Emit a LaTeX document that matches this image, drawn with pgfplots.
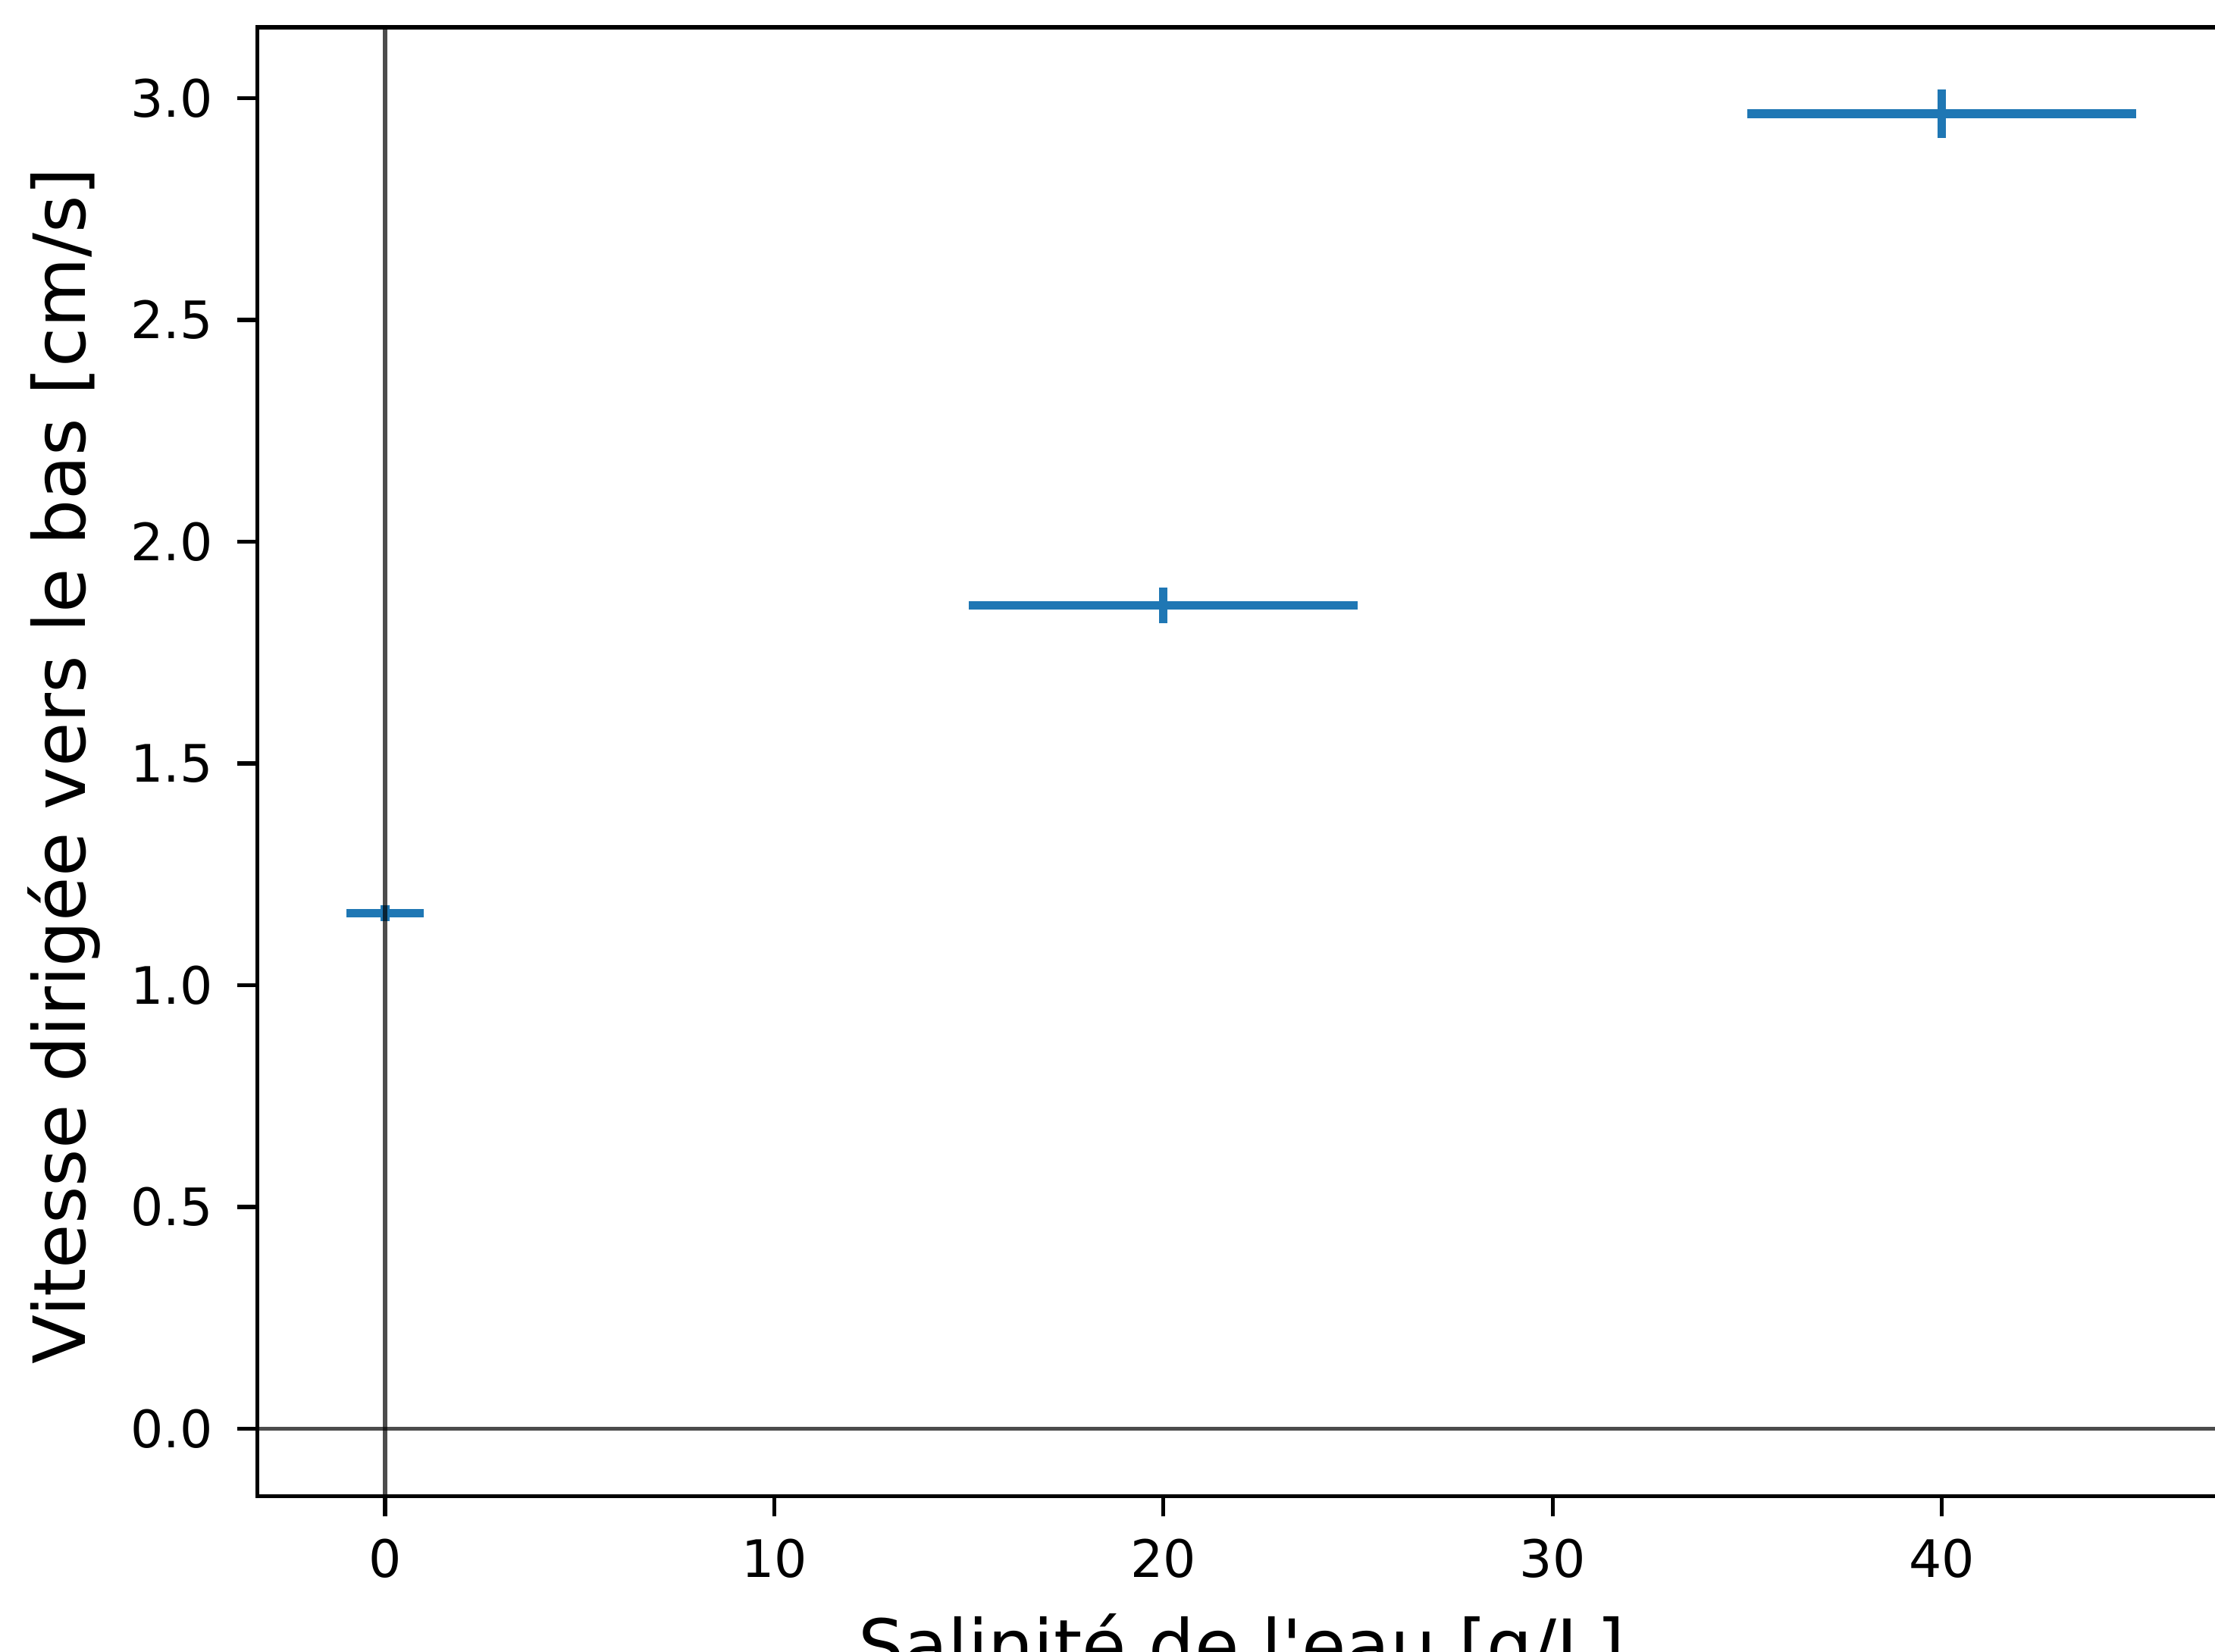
\documentclass[border=0pt]{standalone}
\usepackage{fontspec}
\setmainfont{DejaVu Sans}
\usepackage{pgfplots}
\pgfplotsset{compat=1.18}
\usepackage{pgfplotstable}
\definecolor{mplblue}{HTML}{1F77B4}

% salinite [g/L], vitesse [cm/s], incertitudes
\pgfplotstableread{
x   y      ex  ey
0   1.162  1   0.018
20  1.857  5   0.040
40  2.965  5   0.054
}\mesures

\begin{document}
\begin{tikzpicture}
\clip (-1.822,-1.10) rectangle (13.858,10.59);
\begin{axis}[
  at={(0,0)}, anchor=south west,
  scale only axis, width=13.935cm, height=10.397cm,
  xmin=-3.28, xmax=47.3, ymin=-0.152, ymax=3.16,
  xtick={0,10,20,30,40},
  ytick={0,0.5,1,1.5,2,2.5,3},
  xtick pos=bottom, ytick pos=left,
  tick align=outside, major tick length=0.145cm,
  tick style={line width=0.8pt, black},
  axis line style={line width=0.8pt},
  /pgf/number format/assume math mode=true,
  every tick label/.append style={font=\fontsize{10.4}{12}\selectfont},
  yticklabel style={/pgf/number format/fixed, /pgf/number format/fixed zerofill,
    /pgf/number format/precision=1, anchor=east, inner sep=0pt, xshift=-0.165cm},
  xticklabel style={anchor=north, inner sep=0pt, yshift=-0.15cm},
  every axis x label/.style={at={(axis description cs:0.5,-0.119)}, anchor=base,
    font=\fontsize{14.5}{17}\selectfont},
  every axis y label/.style={at={(axis description cs:-0.0875,0.497)}, anchor=base,
    rotate=90, font=\fontsize{14.5}{17}\selectfont},
  xlabel={Salinité de l\textquotesingle eau [g/L]},
  ylabel={Vitesse dirigée vers le bas [cm/s]},
]
\addplot[draw=none, mark=none,
  error bars/.cd, x dir=both, x explicit, y dir=both, y explicit,
  error mark=none, error bar style={draw=mplblue, line width=1.7pt, solid}]
  table[x=x, y=y, x error=ex, y error=ey] {\mesures};
% axes de reference (axhline / axvline)
\addplot[black, opacity=0.7, line width=0.8pt] coordinates {(-3.28,0) (47.3,0)};
\addplot[black, opacity=0.7, line width=0.8pt] coordinates {(0,-0.152) (0,3.16)};
\end{axis}
\end{tikzpicture}
\end{document}
